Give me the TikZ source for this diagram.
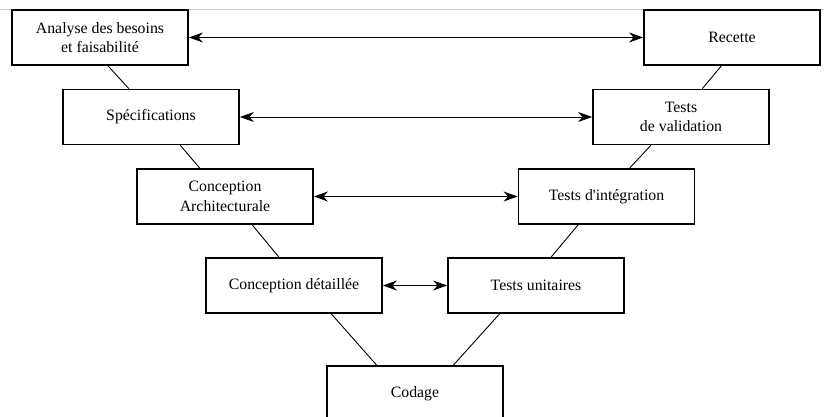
\documentclass[tikz,border=0pt]{standalone}
\usepackage{fontspec}
\setmainfont{Liberation Serif}
\usetikzlibrary{arrows.meta,calc}

\begin{document}
\begin{tikzpicture}[x=1pt, y=-1pt, >={Stealth[length=14pt,width=10pt,inset=4.5pt]},
  box/.style={draw, line width=1.8pt, fill=white, minimum width=176pt, minimum height=55pt,
    align=center, inner sep=2pt, font=\fontsize{15.8}{19.5}\selectfont},
  link/.style={line width=0.9pt},
  twoway/.style={line width=0.9pt, <->}]
  \fill[white] (0,0) rectangle (824,417);
  \useasboundingbox (0,0) rectangle (824,417);
  \draw[black!20, line width=0.8pt] (0,9) -- (824,9);
  % left branch
  \node[box] (ana)  at (100,37.5)  {Analyse des besoins\\et faisabilité};
  \node[box] (spec) at (151,117)   {Spécifications};
  \node[box] (arch) at (225,196.5) {Conception\\Architecturale};
  \node[box] (det)  at (294,285.5) {Conception détaillée};
  % bottom
  \node[box] (cod)  at (415,393.5) {Codage};
  % right branch
  \node[box] (tu)   at (536,285.5) {Tests unitaires};
  \node[box] (ti)   at (606.5,196.5) {Tests d\textquotesingle intégration};
  \node[box] (tv)   at (681,117)   {Tests\\de validation};
  \node[box] (rec)  at (732,37.5)  {Recette};
  % the V
  \draw[link] ($(ana.south west)!.545!(ana.south east)$) -- ($(spec.north west)!.375!(spec.north east)$);
  \draw[link] ($(spec.south west)!.665!(spec.south east)$) -- ($(arch.north west)!.358!(arch.north east)$);
  \draw[link] ($(arch.south west)!.653!(arch.south east)$) -- ($(det.north west)!.415!(det.north east)$);
  \draw[link] ($(det.south west)!.71!(det.south east)$) -- ($(cod.north west)!.284!(cod.north east)$);
  \draw[link] ($(cod.north west)!.716!(cod.north east)$) -- ($(tu.south west)!.295!(tu.south east)$);
  \draw[link] ($(tu.north west)!.585!(tu.north east)$) -- ($(ti.south west)!.34!(ti.south east)$);
  \draw[link] ($(ti.north west)!.63!(ti.north east)$) -- ($(tv.south west)!.33!(tv.south east)$);
  \draw[link] ($(tv.north west)!.62!(tv.north east)$) -- ($(rec.south west)!.44!(rec.south east)$);
  % levels
  \draw[twoway] (ana.east) -- (rec.west);
  \draw[twoway] (spec.east) -- (tv.west);
  \draw[twoway] (arch.east) -- (ti.west);
  \draw[twoway] (det.east) -- (tu.west);
\end{tikzpicture}
\end{document}
